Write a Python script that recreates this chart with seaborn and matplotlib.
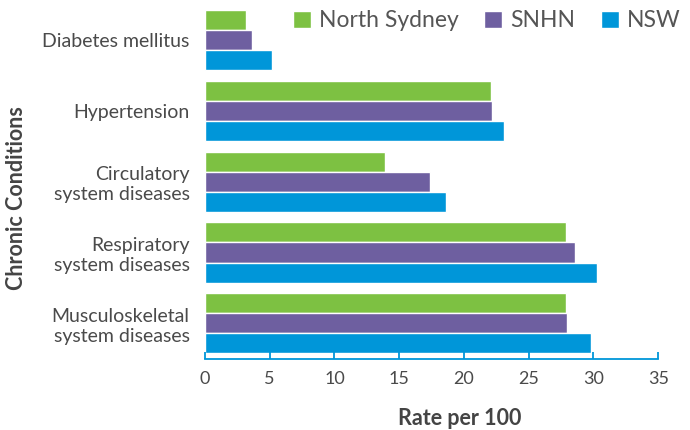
import pandas as pd
import numpy as np
import matplotlib
matplotlib.use("Agg")
import matplotlib.pyplot as plt
import seaborn as sns

# data
conditions = ["Diabetes mellitus", "Hypertension", "Circulatory\nsystem diseases",
              "Respiratory\nsystem diseases", "Musculoskeletal\nsystem diseases"]
north_sydney = [3.2, 22.05, 13.9, 27.9, 27.9]
snhn = [3.65, 22.2, 17.4, 28.6, 27.95]
nsw = [5.15, 23.1, 18.6, 30.25, 29.8]
regions = ["North Sydney", "SNHN", "NSW"]
colors = ["#7DC142", "#6E5FA0", "#0096D9"]
xticks = [0, 5, 10, 15, 20, 25, 30, 35]

df = pd.DataFrame({
    "condition": conditions * 3,
    "rate": north_sydney + snhn + nsw,
    "region": np.repeat(regions, len(conditions)),
})

sns.set_style("white")
plt.rcParams["font.family"] = ["Lato", "DejaVu Sans"]

fig = plt.figure(figsize=(6.9, 4.3), dpi=100)
ax = fig.add_axes([0.297, 0.174, 0.657, 0.815])

sns.barplot(data=df, y="condition", x="rate", hue="region", orient="h",
            palette=colors, width=0.85, gap=0, saturation=1, ax=ax)

ax.set_xlim(0, 35)
ax.set_ylim(4.45, -0.5)
ax.set_xticks(xticks)
ax.set_axisbelow(False)

for side in ["top", "right", "left"]:
    ax.spines[side].set_visible(False)
# axis line sits just below the last bar, with a thin white gap
ax.spines["bottom"].set_color("#0096D9")
ax.spines["bottom"].set_linewidth(1.3)
ax.spines["bottom"].set_position(("outward", 2.5))

ax.tick_params(axis="x", bottom=True, direction="in", length=5, width=1.3,
               color="#0096D9", labelsize=13, labelcolor="#4a4a4a", pad=9)
ax.tick_params(axis="y", left=False, length=0, labelsize=14, labelcolor="#4a4a4a", pad=11)

ax.set_xlabel("Rate per 100", fontsize=15.5, fontweight="bold", color="#444444",
              va="center")
ax.xaxis.set_label_coords(0.563, -0.18)
ax.set_ylabel("Chronic Conditions", fontsize=15.5, fontweight="bold", color="#444444",
              va="center")
ax.yaxis.set_label_coords(-0.415, 0.448)

ax.legend(loc="upper right", bbox_to_anchor=(1.07, 1.01), ncol=3, frameon=False,
          fontsize=16.5, handlelength=0.8, handleheight=0.8, handletextpad=0.35,
          columnspacing=1.1, labelcolor="#555555", borderaxespad=0)

fig.savefig("out.png", dpi=100)
